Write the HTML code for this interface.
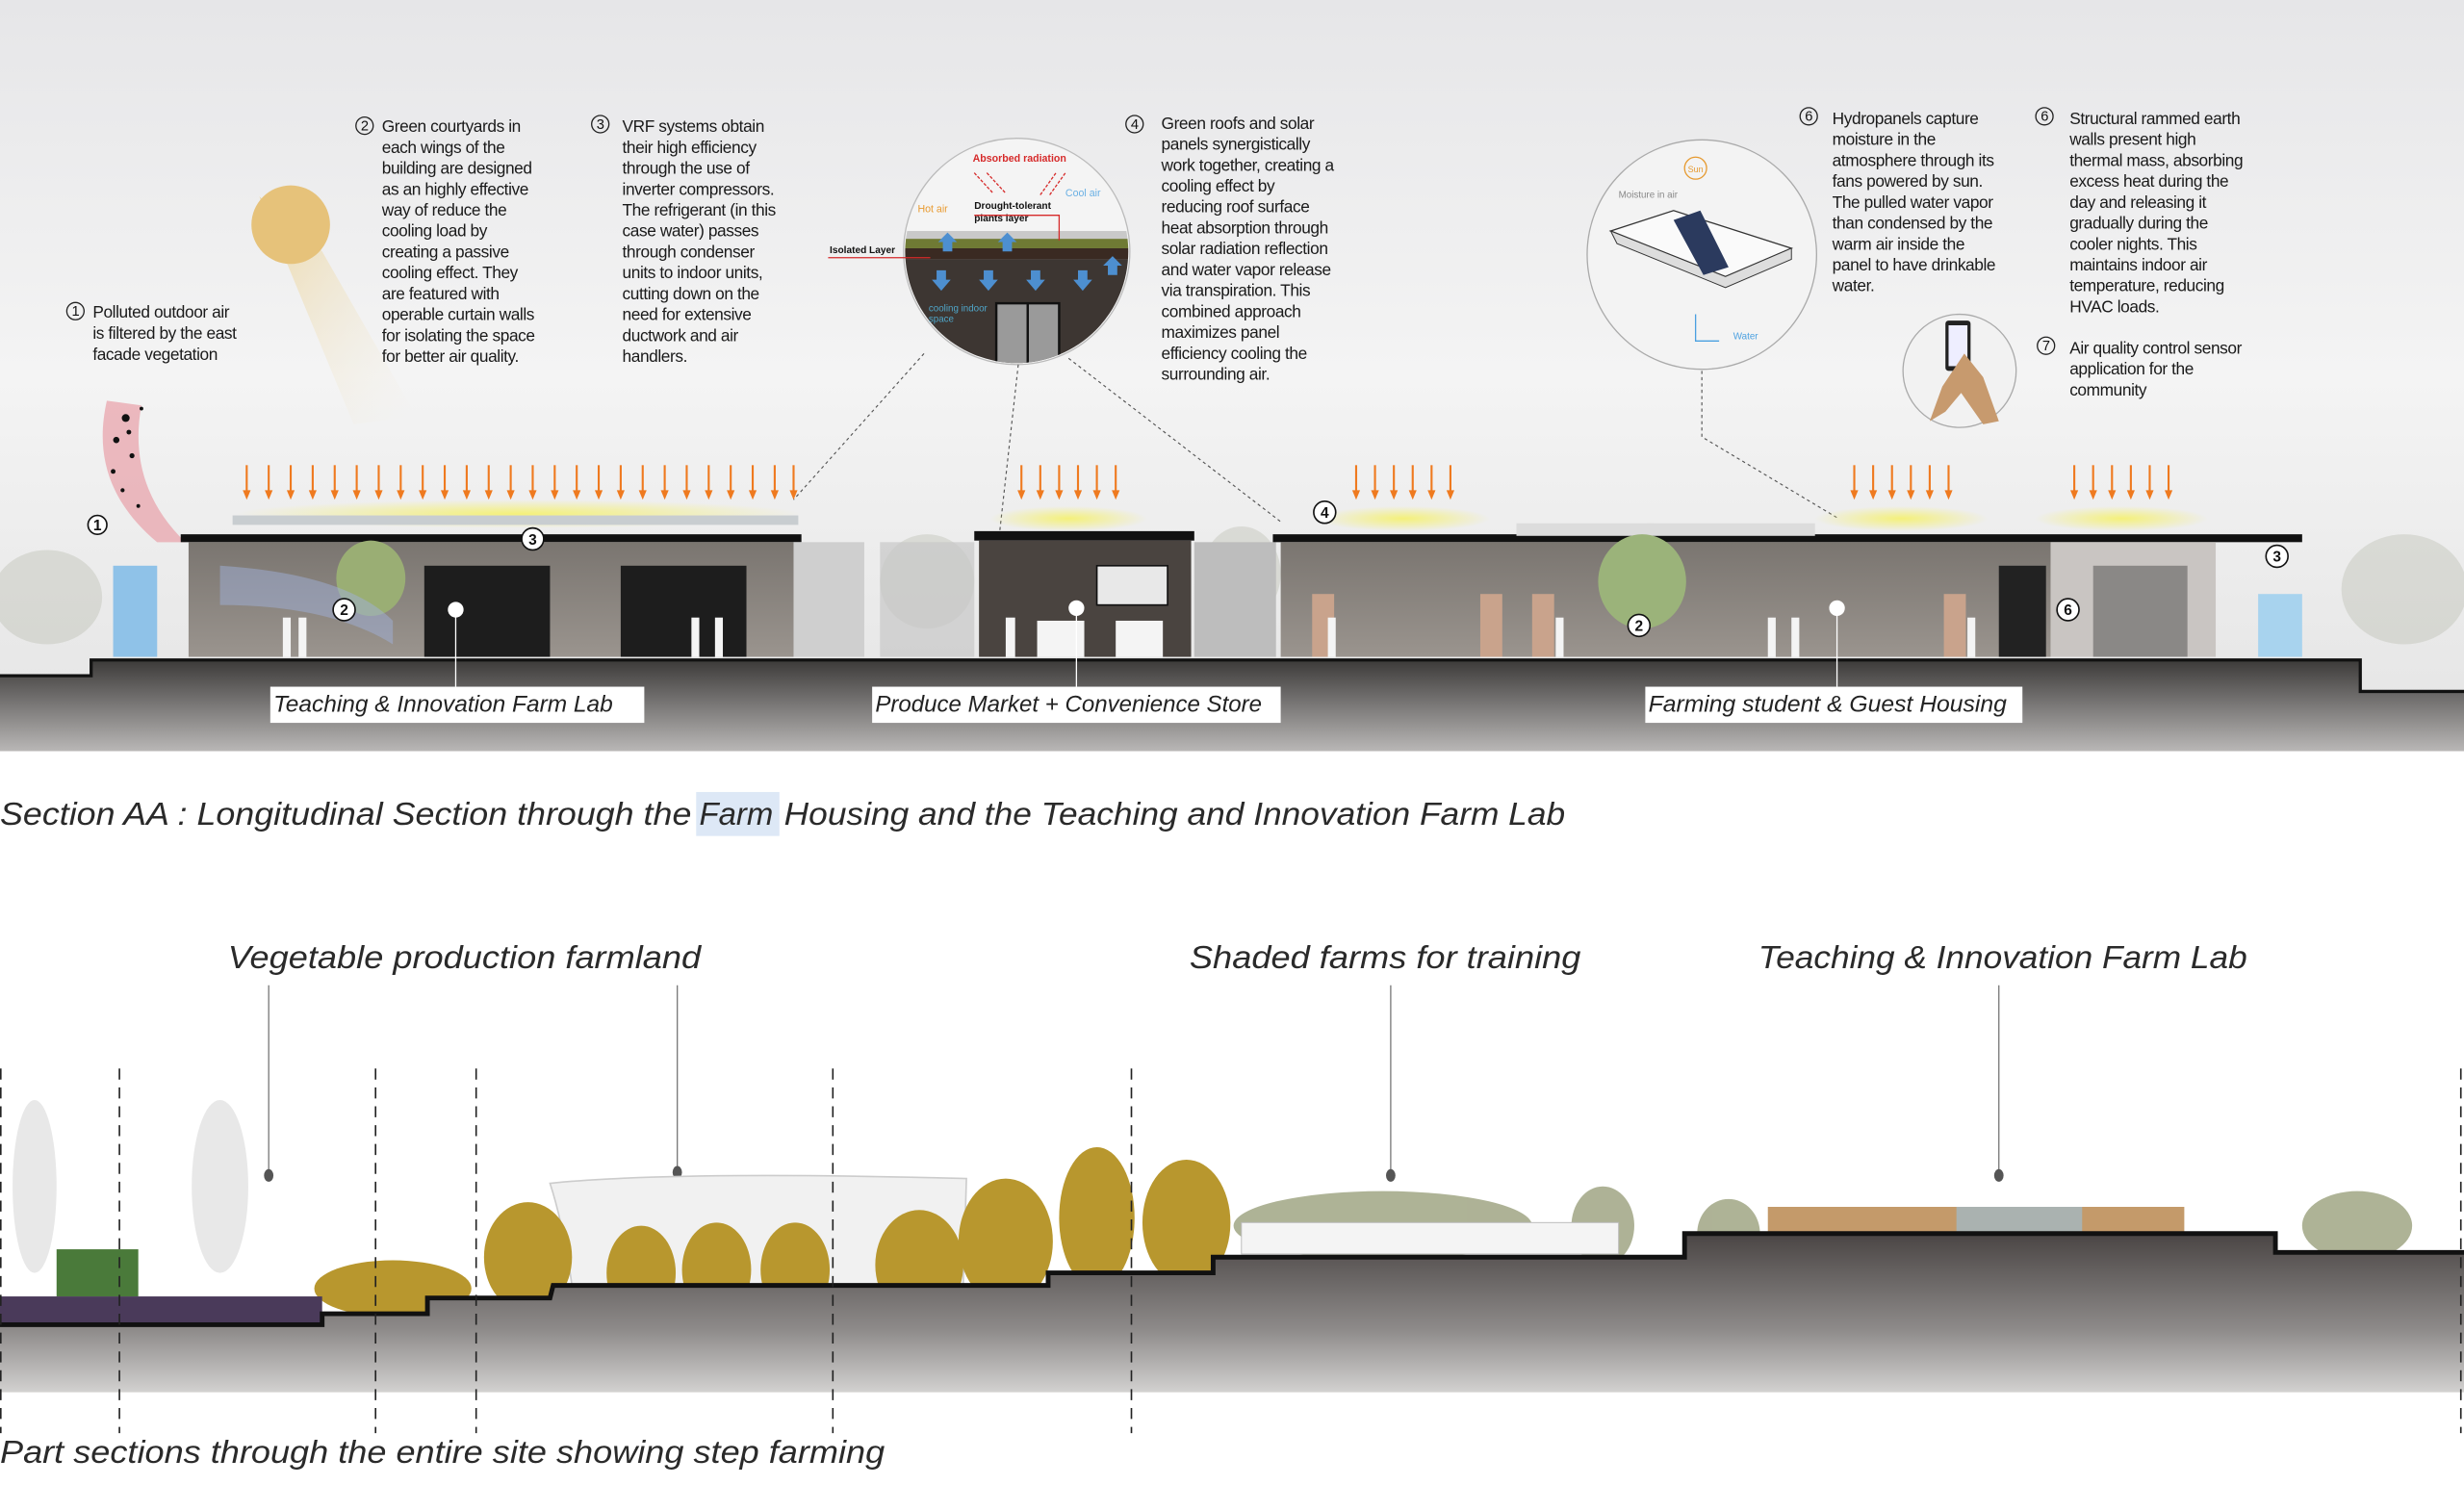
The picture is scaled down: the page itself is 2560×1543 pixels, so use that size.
<!DOCTYPE html>
<html><head><meta charset="utf-8"><style>
html,body{margin:0;padding:0;background:#fff}
svg{display:block}
.t{font-family:"Liberation Sans",sans-serif;font-size:10.6px;fill:#1a1a1a;letter-spacing:-0.25px}
.cap{font-family:"Liberation Sans",sans-serif;font-style:italic;font-size:20.5px;fill:#2a2a2a}
.lab{font-family:"Liberation Sans",sans-serif;font-style:italic;font-size:14.5px;fill:#222}
.num{font-family:"Liberation Sans",sans-serif;font-size:9px;fill:#111;text-anchor:middle}
.bn{font-family:"Liberation Sans",sans-serif;font-size:9.5px;font-weight:bold;fill:#111;text-anchor:middle}
</style></head><body>
<svg width="2560" height="1543" viewBox="0 0 1568 945" preserveAspectRatio="none" xmlns="http://www.w3.org/2000/svg">
<defs>
<linearGradient id="sky" x1="0" y1="0" x2="0" y2="1"><stop offset="0" stop-color="#e6e6e8"/><stop offset="0.5" stop-color="#f4f4f4"/><stop offset="1" stop-color="#e4e4e4"/></linearGradient>
<linearGradient id="gnd" x1="0" y1="0" x2="0" y2="1"><stop offset="0" stop-color="#3c3a39"/><stop offset="1" stop-color="#b9b7b6"/></linearGradient>
<linearGradient id="gnd2" x1="0" y1="0" x2="0" y2="1"><stop offset="0" stop-color="#4a4544"/><stop offset="0.6" stop-color="#8d8a89"/><stop offset="1" stop-color="#d2d1d0"/></linearGradient>
<linearGradient id="beam" x1="0" y1="0" x2="1" y2="1"><stop offset="0" stop-color="#ecd49a" stop-opacity="0.9"/><stop offset="1" stop-color="#f3f0e8" stop-opacity="0"/></linearGradient>
<radialGradient id="glow"><stop offset="0" stop-color="#f4f07a"/><stop offset="1" stop-color="#f4f07a" stop-opacity="0"/></radialGradient>
<linearGradient id="wall" x1="0" y1="0" x2="0" y2="1"><stop offset="0" stop-color="#7a7570"/><stop offset="1" stop-color="#9a948e"/></linearGradient>
<g id="ar"><line x1="0" y1="296" x2="0" y2="314"/><path d="M-2.5 312 L2.5 312 L0 318 Z" stroke="none"/></g>
</defs>
<rect x="0" y="0" width="1568" height="478" fill="url(#sky)"/>
<rect x="0" y="478" width="1568" height="467" fill="#fff"/>

<path d="M165 125 L205 160 L265 265 L225 270 Z" fill="url(#beam)"/>
<circle cx="185" cy="143" r="25" fill="#e6c27a"/>

<g class="t">
<circle cx="48" cy="198" r="5.5" fill="none" stroke="#222" stroke-width="0.8"/><text class="num" x="48" y="201">1</text>
<text x="59" y="202">Polluted outdoor air</text><text x="59" y="215.5">is filtered by the east</text><text x="59" y="229">facade vegetation</text>

<circle cx="232" cy="80" r="5.5" fill="none" stroke="#222" stroke-width="0.8"/><text class="num" x="232" y="83">2</text>
<text x="243" y="84">Green courtyards in</text><text x="243" y="97.3">each wings of the</text><text x="243" y="110.6">building are designed</text><text x="243" y="123.9">as an highly effective</text><text x="243" y="137.2">way of reduce the</text><text x="243" y="150.5">cooling load by</text><text x="243" y="163.8">creating a passive</text><text x="243" y="177.1">cooling effect. They</text><text x="243" y="190.4">are featured with</text><text x="243" y="203.7">operable curtain walls</text><text x="243" y="217">for isolating the space</text><text x="243" y="230.3">for better air quality.</text>

<circle cx="382" cy="79" r="5.5" fill="none" stroke="#222" stroke-width="0.8"/><text class="num" x="382" y="82">3</text>
<text x="396" y="84">VRF systems obtain</text><text x="396" y="97.3">their high efficiency</text><text x="396" y="110.6">through the use of</text><text x="396" y="123.9">inverter compressors.</text><text x="396" y="137.2">The refrigerant (in this</text><text x="396" y="150.5">case water) passes</text><text x="396" y="163.8">through condenser</text><text x="396" y="177.1">units to indoor units,</text><text x="396" y="190.4">cutting down on the</text><text x="396" y="203.7">need for extensive</text><text x="396" y="217">ductwork and air</text><text x="396" y="230.3">handlers.</text>

<circle cx="722" cy="79" r="5.5" fill="none" stroke="#222" stroke-width="0.8"/><text class="num" x="722" y="82">4</text>
<text x="739" y="82">Green roofs and solar</text><text x="739" y="95.3">panels synergistically</text><text x="739" y="108.6">work together, creating a</text><text x="739" y="121.9">cooling effect by</text><text x="739" y="135.2">reducing roof surface</text><text x="739" y="148.5">heat absorption through</text><text x="739" y="161.8">solar radiation reflection</text><text x="739" y="175.1">and water vapor release</text><text x="739" y="188.4">via transpiration. This</text><text x="739" y="201.7">combined approach</text><text x="739" y="215">maximizes panel</text><text x="739" y="228.3">efficiency cooling the</text><text x="739" y="241.6">surrounding air.</text>

<circle cx="1151" cy="74" r="5.5" fill="none" stroke="#222" stroke-width="0.8"/><text class="num" x="1151" y="77">6</text>
<text x="1166" y="79">Hydropanels capture</text><text x="1166" y="92.3">moisture in the</text><text x="1166" y="105.6">atmosphere through its</text><text x="1166" y="118.9">fans powered by sun.</text><text x="1166" y="132.2">The pulled water vapor</text><text x="1166" y="145.5">than condensed by the</text><text x="1166" y="158.8">warm air inside the</text><text x="1166" y="172.1">panel to have drinkable</text><text x="1166" y="185.4">water.</text>

<circle cx="1301" cy="74" r="5.5" fill="none" stroke="#222" stroke-width="0.8"/><text class="num" x="1301" y="77">6</text>
<text x="1317" y="79">Structural rammed earth</text><text x="1317" y="92.3">walls present high</text><text x="1317" y="105.6">thermal mass, absorbing</text><text x="1317" y="118.9">excess heat during the</text><text x="1317" y="132.2">day and releasing it</text><text x="1317" y="145.5">gradually during the</text><text x="1317" y="158.8">cooler nights. This</text><text x="1317" y="172.1">maintains indoor air</text><text x="1317" y="185.4">temperature, reducing</text><text x="1317" y="198.7">HVAC loads.</text>

<circle cx="1302" cy="220" r="5.5" fill="none" stroke="#222" stroke-width="0.8"/><text class="num" x="1302" y="223">7</text>
<text x="1317" y="225">Air quality control sensor</text><text x="1317" y="238.3">application for the</text><text x="1317" y="251.6">community</text>
</g>

<g>
<circle cx="647" cy="160" r="72" fill="#f4f4f4" stroke="#bbb" stroke-width="0.8"/>
<clipPath id="c1"><circle cx="647" cy="160" r="71"/></clipPath>
<g clip-path="url(#c1)">
<rect x="570" y="147" width="160" height="6" fill="#c9c9c9"/>
<rect x="570" y="152" width="160" height="6" fill="#6f7a34"/>
<rect x="570" y="158" width="160" height="7" fill="#3a2a22"/>
<rect x="570" y="165" width="160" height="70" fill="#3d3632"/>
<rect x="634" y="193" width="40" height="45" fill="#9a9a9a" stroke="#111" stroke-width="1.5"/>
<line x1="654" y1="193" x2="654" y2="238" stroke="#111" stroke-width="1.5"/>
<g fill="#4d8fd0"><path d="M596 172h6v6h3l-6 7-6-7h3z"/><path d="M626 172h6v6h3l-6 7-6-7h3z"/><path d="M656 172h6v6h3l-6 7-6-7h3z"/><path d="M686 172h6v6h3l-6 7-6-7h3z"/><path d="M603 148l6 6h-3v6h-6v-6h-3z"/><path d="M641 148l6 6h-3v6h-6v-6h-3z"/><path d="M708 163l6 6h-3v6h-6v-6h-3z"/></g>
</g>
<text x="619" y="103" font-family="Liberation Sans,sans-serif" font-size="6.5" font-weight="bold" fill="#d62a2a">Absorbed radiation</text>
<text x="620" y="133" font-family="Liberation Sans,sans-serif" font-size="6.2" font-weight="bold" fill="#111">Drought-tolerant</text>
<text x="620" y="141" font-family="Liberation Sans,sans-serif" font-size="6.2" font-weight="bold" fill="#111">plants layer</text>
<text x="584" y="135" font-family="Liberation Sans,sans-serif" font-size="6.5" fill="#e89a30">Hot air</text>
<text x="678" y="125" font-family="Liberation Sans,sans-serif" font-size="6.5" fill="#6ab0e4">Cool air</text>
<text x="591" y="198" font-family="Liberation Sans,sans-serif" font-size="6" fill="#4fa6c9">cooling indoor</text>
<text x="591" y="205" font-family="Liberation Sans,sans-serif" font-size="6" fill="#4fa6c9">space</text>
<g stroke="#d62a2a" stroke-width="0.8" stroke-dasharray="2 1" fill="none"><line x1="620" y1="110" x2="632" y2="123"/><line x1="628" y1="110" x2="640" y2="123"/><line x1="662" y1="124" x2="672" y2="110"/><line x1="668" y1="124" x2="678" y2="110"/></g>
<path d="M620 137h54v16" stroke="#d62a2a" stroke-width="0.8" fill="none"/>
<text x="528" y="161" font-family="Liberation Sans,sans-serif" font-size="6.2" font-weight="bold" fill="#111">Isolated Layer</text>
<line x1="527" y1="164" x2="592" y2="164" stroke="#d62a2a" stroke-width="0.8"/>
</g>
<g stroke="#555" stroke-width="0.7" stroke-dasharray="2 2" fill="none">
<line x1="588" y1="225" x2="505" y2="318"/><line x1="648" y1="232" x2="636" y2="340"/><line x1="680" y1="228" x2="815" y2="332"/>
<polyline points="1083,236 1083,278 1170,330"/>
</g>

<circle cx="1083" cy="162" r="73" fill="#f3f3f3" stroke="#aaa" stroke-width="0.8"/>
<path d="M1025 147 L1065 134 L1140 158 L1098 176 Z" fill="#fafafa" stroke="#333" stroke-width="0.8"/>
<path d="M1025 147 L1029 155 L1098 183 L1140 165 L1140 158 L1098 176 Z" fill="#ddd" stroke="#333" stroke-width="0.6"/>
<path d="M1065 140 L1082 134 L1100 170 L1084 175 Z" fill="#2b3a5e"/>
<text x="1030" y="126" font-family="Liberation Sans,sans-serif" font-size="6" fill="#888">Moisture in air</text>
<circle cx="1079" cy="107" r="7" fill="none" stroke="#e69a30" stroke-width="0.8"/><text x="1079" y="109.5" font-family="Liberation Sans,sans-serif" font-size="5.5" fill="#e69a30" text-anchor="middle">Sun</text>
<path d="M1079 200v17h15" stroke="#4aa0e0" stroke-width="0.8" fill="none"/><text x="1103" y="216" font-family="Liberation Sans,sans-serif" font-size="6" fill="#4aa0e0">Water</text>
<circle cx="1247" cy="236" r="36" fill="#f2f2f2" stroke="#aaa" stroke-width="0.8"/>
<rect x="1238" y="204" width="16" height="32" rx="2" fill="#222"/><rect x="1240" y="207" width="12" height="26" fill="#eef"/>
<path d="M1250 225 L1262 240 L1272 268 L1262 270 L1248 250 L1238 262 L1228 268 L1236 246 Z" fill="#c79a6e"/>

<path d="M68 255 C60 290 70 320 100 345 L118 345 C92 320 84 290 90 258 Z" fill="#e8a0a8" opacity="0.7"/>
<g fill="#111"><circle cx="80" cy="266" r="2.5"/><circle cx="74" cy="280" r="2"/><circle cx="84" cy="290" r="1.6"/><circle cx="72" cy="300" r="1.5"/><circle cx="78" cy="312" r="1.3"/><circle cx="88" cy="322" r="1.2"/><circle cx="82" cy="275" r="1.5"/><circle cx="90" cy="260" r="1.2"/></g>

<g fill="#ef7a1f" stroke="#ef7a1f" stroke-width="1.3">
<use href="#ar" x="157"/><use href="#ar" x="171"/><use href="#ar" x="185"/><use href="#ar" x="199"/><use href="#ar" x="213"/><use href="#ar" x="227"/><use href="#ar" x="241"/><use href="#ar" x="255"/><use href="#ar" x="269"/><use href="#ar" x="283"/><use href="#ar" x="297"/><use href="#ar" x="311"/><use href="#ar" x="325"/><use href="#ar" x="339"/><use href="#ar" x="353"/><use href="#ar" x="367"/><use href="#ar" x="381"/><use href="#ar" x="395"/><use href="#ar" x="409"/><use href="#ar" x="423"/><use href="#ar" x="437"/><use href="#ar" x="451"/><use href="#ar" x="465"/><use href="#ar" x="479"/><use href="#ar" x="493"/><use href="#ar" x="505"/>
<use href="#ar" x="650"/><use href="#ar" x="662"/><use href="#ar" x="674"/><use href="#ar" x="686"/><use href="#ar" x="698"/><use href="#ar" x="710"/>
<use href="#ar" x="863"/><use href="#ar" x="875"/><use href="#ar" x="887"/><use href="#ar" x="899"/><use href="#ar" x="911"/><use href="#ar" x="923"/>
<use href="#ar" x="1180"/><use href="#ar" x="1192"/><use href="#ar" x="1204"/><use href="#ar" x="1216"/><use href="#ar" x="1228"/><use href="#ar" x="1240"/>
<use href="#ar" x="1320"/><use href="#ar" x="1332"/><use href="#ar" x="1344"/><use href="#ar" x="1356"/><use href="#ar" x="1368"/><use href="#ar" x="1380"/>
</g>
<ellipse cx="330" cy="327" rx="180" ry="9" fill="url(#glow)"/>
<ellipse cx="680" cy="330" rx="50" ry="8" fill="url(#glow)"/>
<ellipse cx="893" cy="330" rx="55" ry="8" fill="url(#glow)"/>
<ellipse cx="1210" cy="330" rx="55" ry="8" fill="url(#glow)"/>
<ellipse cx="1350" cy="330" rx="55" ry="8" fill="url(#glow)"/>

<g fill="#b4b8aa" opacity="0.35"><ellipse cx="30" cy="380" rx="35" ry="30"/><ellipse cx="1530" cy="375" rx="40" ry="35"/><ellipse cx="590" cy="370" rx="30" ry="30"/><ellipse cx="790" cy="365" rx="25" ry="30"/><ellipse cx="1050" cy="365" rx="25" ry="32"/></g>

<rect x="148" y="328" width="360" height="6" fill="#c8cdd0"/>
<rect x="115" y="340" width="395" height="5" fill="#111"/>
<rect x="120" y="345" width="385" height="73" fill="url(#wall)"/>
<rect x="270" y="360" width="80" height="58" fill="#1d1d1d"/><rect x="395" y="360" width="80" height="58" fill="#1d1d1d"/>
<rect x="505" y="345" width="45" height="73" fill="#cfcfcf"/>
<rect x="560" y="345" width="60" height="73" fill="#c8c8c8" opacity="0.7"/>
<rect x="620" y="338" width="140" height="6" fill="#111"/>
<rect x="623" y="344" width="135" height="74" fill="#4a4440"/>
<rect x="698" y="360" width="45" height="25" fill="#e8e8e8" stroke="#111"/>
<rect x="760" y="345" width="52" height="73" fill="#bdbdbd"/>
<rect x="810" y="340" width="655" height="5" fill="#111"/>
<rect x="965" y="333" width="190" height="8" fill="#dcdcdc"/>
<rect x="815" y="345" width="490" height="73" fill="url(#wall)"/>
<rect x="1305" y="345" width="105" height="73" fill="#c9c5c2"/>
<rect x="1332" y="360" width="60" height="58" fill="#8a8886"/>
<rect x="1272" y="360" width="30" height="58" fill="#222"/>
<g fill="#c9a38c"><rect x="835" y="378" width="14" height="40"/><rect x="942" y="378" width="14" height="40"/><rect x="975" y="378" width="14" height="40"/><rect x="1237" y="378" width="14" height="40"/></g>
<ellipse cx="1045" cy="370" rx="28" ry="30" fill="#9bb37a"/>
<ellipse cx="236" cy="368" rx="22" ry="24" fill="#9aae74"/>
<rect x="1437" y="378" width="28" height="40" fill="#a8d3ee"/>
<rect x="72" y="360" width="28" height="58" fill="#8fc2e8"/>
<path d="M140 360 Q220 365 250 395 L250 410 Q210 385 140 385 Z" fill="#9fb0d8" opacity="0.5"/>
<g fill="#f4f4f4"><rect x="180" y="393" width="5" height="25"/><rect x="190" y="393" width="5" height="25"/><rect x="440" y="393" width="5" height="25"/><rect x="455" y="393" width="5" height="25"/><rect x="640" y="393" width="6" height="25"/><rect x="660" y="395" width="30" height="23"/><rect x="710" y="395" width="30" height="23"/><rect x="845" y="393" width="5" height="25"/><rect x="990" y="393" width="5" height="25"/><rect x="1125" y="393" width="5" height="25"/><rect x="1140" y="393" width="5" height="25"/><rect x="1252" y="393" width="5" height="25"/></g>

<path d="M0 430 L58 430 L58 420 L1502 420 L1502 440 L1568 440 L1568 478 L0 478 Z" fill="url(#gnd)"/>
<path d="M0 430 L58 430 L58 420 L1502 420 L1502 440 L1568 440" stroke="#111" stroke-width="2" fill="none"/>

<g fill="#fff" stroke="#111" stroke-width="1">
<circle cx="62" cy="334" r="6"/><circle cx="339" cy="343" r="7"/><circle cx="219" cy="388" r="7"/><circle cx="843" cy="326" r="7"/><circle cx="1043" cy="398" r="7"/><circle cx="1316" cy="388" r="7"/><circle cx="1449" cy="354" r="7"/>
</g>
<text class="bn" x="62" y="337.5">1</text><text class="bn" x="339" y="346.5">3</text><text class="bn" x="219" y="391.5">2</text><text class="bn" x="843" y="329.5">4</text><text class="bn" x="1043" y="401.5">2</text><text class="bn" x="1316" y="391.5">6</text><text class="bn" x="1449" y="357.5">3</text>
<g stroke="#fff" stroke-width="0.8"><line x1="290" y1="388" x2="290" y2="437"/><line x1="685" y1="387" x2="685" y2="437"/><line x1="1169" y1="387" x2="1169" y2="437"/></g>
<g fill="#fff"><circle cx="290" cy="388" r="5"/><circle cx="685" cy="387" r="5"/><circle cx="1169" cy="387" r="5"/></g>

<rect x="172" y="437" width="238" height="23" fill="#fff"/><text class="lab" x="174" y="453" textLength="216" lengthAdjust="spacingAndGlyphs">Teaching &amp; Innovation Farm Lab</text>
<rect x="555" y="437" width="260" height="23" fill="#fff"/><text class="lab" x="557" y="453" textLength="246" lengthAdjust="spacingAndGlyphs">Produce Market + Convenience Store</text>
<rect x="1047" y="437" width="240" height="23" fill="#fff"/><text class="lab" x="1049" y="453" textLength="228" lengthAdjust="spacingAndGlyphs">Farming student &amp; Guest Housing</text>

<rect x="443" y="504" width="53" height="28" fill="#dde8f6"/>
<text class="cap" y="525"><tspan x="0" textLength="440" lengthAdjust="spacingAndGlyphs">Section AA : Longitudinal Section through the</tspan><tspan x="445" textLength="47" lengthAdjust="spacingAndGlyphs">Farm</tspan><tspan x="499" textLength="497" lengthAdjust="spacingAndGlyphs">Housing and the Teaching and Innovation Farm Lab</tspan></text>

<text class="cap" x="145" y="616" textLength="301" lengthAdjust="spacingAndGlyphs">Vegetable production farmland</text>
<text class="cap" x="757" y="616" textLength="249" lengthAdjust="spacingAndGlyphs">Shaded farms for training</text>
<text class="cap" x="1119" y="616" textLength="311" lengthAdjust="spacingAndGlyphs">Teaching &amp; Innovation Farm Lab</text>
<g stroke="#777" stroke-width="0.8"><line x1="171" y1="627" x2="171" y2="746"/><line x1="431" y1="627" x2="431" y2="744"/><line x1="885" y1="627" x2="885" y2="746"/><line x1="1272" y1="627" x2="1272" y2="746"/></g>
<g fill="#555"><ellipse cx="171" cy="748" rx="3" ry="4"/><ellipse cx="431" cy="746" rx="3" ry="4"/><ellipse cx="885" cy="748" rx="3" ry="4"/><ellipse cx="1272" cy="748" rx="3" ry="4"/></g>

<g fill="#e2e2e2" opacity="0.8"><ellipse cx="22" cy="755" rx="14" ry="55"/><ellipse cx="140" cy="755" rx="18" ry="55"/></g>
<path d="M350 753 Q430 745 615 750 L612 850 L368 852 Q362 790 350 753Z" fill="#f1f1f1" stroke="#ccc"/>
<g fill="#9aa07c" opacity="0.8"><ellipse cx="880" cy="780" rx="95" ry="22"/><ellipse cx="1020" cy="780" rx="20" ry="25"/><ellipse cx="1100" cy="785" rx="20" ry="22"/><ellipse cx="1500" cy="780" rx="35" ry="22"/></g>
<rect x="790" y="778" width="240" height="20" fill="#f4f4f4" stroke="#bbb" stroke-width="0.6"/>
<g fill="#b8972e"><ellipse cx="336" cy="800" rx="28" ry="35"/><ellipse cx="408" cy="810" rx="22" ry="30"/><ellipse cx="456" cy="808" rx="22" ry="30"/><ellipse cx="506" cy="808" rx="22" ry="30"/><ellipse cx="585" cy="805" rx="28" ry="35"/><ellipse cx="640" cy="790" rx="30" ry="40"/><ellipse cx="698" cy="775" rx="24" ry="45"/><ellipse cx="755" cy="778" rx="28" ry="40"/><ellipse cx="250" cy="820" rx="50" ry="18"/></g>
<rect x="1125" y="768" width="265" height="36" fill="#c49a6a"/>
<rect x="1245" y="768" width="80" height="36" fill="#aab2b0"/>
<rect x="36" y="795" width="52" height="30" fill="#4a7a3a"/>
<rect x="0" y="825" width="205" height="18" fill="#4a3a5a"/>
<path d="M0 843 L205 843 L205 836 L272 836 L272 826 L350 826 L352 818 L667 818 L667 810 L772 810 L772 800 L1072 800 L1072 785 L1448 785 L1448 797 L1568 797 L1568 886 L0 886 Z" fill="url(#gnd2)"/>
<path d="M0 843 L205 843 L205 836 L272 836 L272 826 L350 826 L352 818 L667 818 L667 810 L772 810 L772 800 L1072 800 L1072 785 L1448 785 L1448 797 L1568 797" stroke="#111" stroke-width="3" fill="none"/>
<g stroke="#222" stroke-width="1" stroke-dasharray="7 5"><line x1="0.5" y1="680" x2="0.5" y2="912"/><line x1="76" y1="680" x2="76" y2="912"/><line x1="239" y1="680" x2="239" y2="912"/><line x1="303" y1="680" x2="303" y2="912"/><line x1="530" y1="680" x2="530" y2="912"/><line x1="720" y1="680" x2="720" y2="912"/><line x1="1566" y1="680" x2="1566" y2="912"/></g>
<text class="cap" x="0" y="931" textLength="563" lengthAdjust="spacingAndGlyphs">Part sections through the entire site showing step farming</text>
</svg>
</body></html>
